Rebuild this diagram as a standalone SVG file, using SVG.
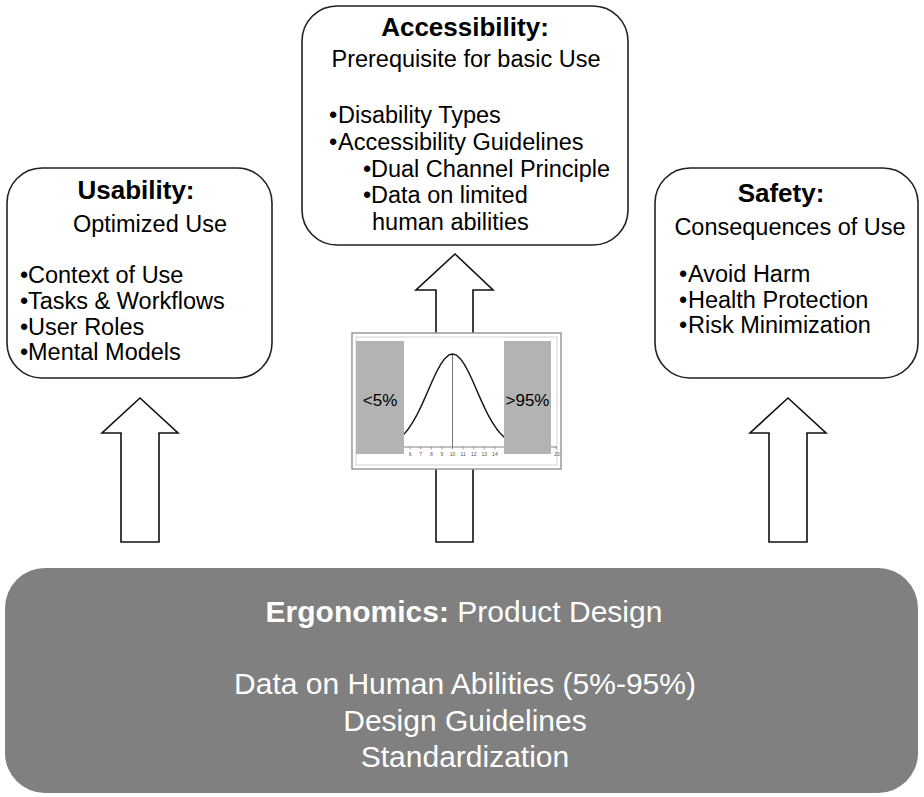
<svg xmlns="http://www.w3.org/2000/svg" width="924" height="797" viewBox="0 0 924 797">
<style>
.box{fill:#fff;stroke:#222;stroke-width:1.6}
.arrow{fill:#fff;stroke:#111;stroke-width:1.6;stroke-linejoin:miter}
.t{font-family:"Liberation Sans",Arial,sans-serif;fill:#000}
.title{font-size:26px;font-weight:bold}
.sub{font-size:23.5px}
.li{font-size:23.5px}
.bt{font-family:"Liberation Sans",Arial,sans-serif;fill:#fff;font-size:30px}
.ax{font-family:"Liberation Sans",Arial,sans-serif;font-size:5px;fill:#555;text-anchor:middle}
</style>
<rect width="924" height="797" fill="#fff"/>

<g id="connectors">
  <polygon class="arrow" points="140,398 178,433 159,433 159,542 121,542 121,433 102,433"/>
  <polygon class="arrow" points="455,254 493,290 473,290 473,542 436,542 436,290 416,290"/>
  <polygon class="arrow" points="788,398 826,433 807,433 807,542 769,542 769,433 750,433"/>
</g>

<g id="usability">
  <rect class="box" x="7" y="168" width="265" height="210" rx="35" ry="35"/>
  <text class="t title" x="136" y="199" text-anchor="middle">Usability:</text>
  <text class="t sub" x="150" y="232" text-anchor="middle">Optimized Use</text>
  <text class="t li" x="20" y="283">•</text><text class="t li" x="28" y="283">Context of Use</text>
  <text class="t li" x="20" y="309">•</text><text class="t li" x="28" y="309">Tasks &amp; Workflows</text>
  <text class="t li" x="20" y="335">•</text><text class="t li" x="28" y="335">User Roles</text>
  <text class="t li" x="20" y="360">•</text><text class="t li" x="28" y="360">Mental Models</text>
</g>

<g id="accessibility">
  <rect class="box" x="302" y="6" width="326" height="239" rx="35" ry="35"/>
  <text class="t title" x="465" y="36" text-anchor="middle">Accessibility:</text>
  <text class="t sub" x="466" y="67" text-anchor="middle">Prerequisite for basic Use</text>
  <text class="t li" x="329" y="123">•</text><text class="t li" x="338" y="123">Disability Types</text>
  <text class="t li" x="329" y="150">•</text><text class="t li" x="338" y="150">Accessibility Guidelines</text>
  <text class="t li" x="363" y="177">•</text><text class="t li" x="371" y="177">Dual Channel Principle</text>
  <text class="t li" x="363" y="203">•</text><text class="t li" x="371" y="203">Data on limited</text>
  <text class="t li" x="372" y="230">human abilities</text>
</g>

<g id="safety">
  <rect class="box" x="655" y="168" width="263" height="210" rx="35" ry="35"/>
  <text class="t title" x="781" y="202" text-anchor="middle">Safety:</text>
  <text class="t sub" x="790" y="235" text-anchor="middle">Consequences of Use</text>
  <text class="t li" x="679" y="282">•</text><text class="t li" x="688" y="282">Avoid Harm</text>
  <text class="t li" x="679" y="308">•</text><text class="t li" x="688" y="308">Health Protection</text>
  <text class="t li" x="679" y="333">•</text><text class="t li" x="688" y="333">Risk Minimization</text>
</g>

<g id="distribution-chart">
  <rect x="352" y="333" width="209" height="136" fill="#fff" stroke="#999" stroke-width="1.5"/>
  <rect x="356" y="337" width="201" height="128" fill="#fff" stroke="#d4d4d4" stroke-width="1"/>
  <line x1="356" y1="447" x2="557" y2="447" stroke="#666" stroke-width="0.8"/>
  <g stroke="#666" stroke-width="0.6">
    <line x1="410.1" y1="447" x2="410.1" y2="449.5"/><line x1="420.7" y1="447" x2="420.7" y2="449.5"/>
    <line x1="431.3" y1="447" x2="431.3" y2="449.5"/><line x1="441.9" y1="447" x2="441.9" y2="449.5"/>
    <line x1="452.5" y1="447" x2="452.5" y2="449.5"/><line x1="463.1" y1="447" x2="463.1" y2="449.5"/>
    <line x1="473.7" y1="447" x2="473.7" y2="449.5"/><line x1="484.3" y1="447" x2="484.3" y2="449.5"/>
    <line x1="494.9" y1="447" x2="494.9" y2="449.5"/><line x1="556" y1="447" x2="556" y2="449.5"/>
  </g>
  <text class="ax" x="410.1" y="456">6</text><text class="ax" x="420.7" y="456">7</text>
  <text class="ax" x="431.3" y="456">8</text><text class="ax" x="441.9" y="456">9</text>
  <text class="ax" x="452.5" y="456">10</text><text class="ax" x="463.1" y="456">11</text>
  <text class="ax" x="473.7" y="456">12</text><text class="ax" x="484.3" y="456">13</text>
  <text class="ax" x="494.9" y="456">14</text><text class="ax" x="557" y="456">20</text>
  <line x1="452.5" y1="354" x2="452.5" y2="447" stroke="#555" stroke-width="0.8"/>
  <polyline fill="none" stroke="#111" stroke-width="1.4" stroke-linejoin="round" points="396.5,440.3 400.5,437.4 404.5,433.6 408.5,428.7 412.5,422.7 416.5,415.7 420.5,407.6 424.5,398.9 428.5,389.7 432.5,380.5 436.5,372 440.5,364.6 444.5,358.9 448.5,355.2 452.5,354 456.5,355.2 460.5,358.9 464.5,364.6 468.5,372 472.5,380.5 476.5,389.7 480.5,398.9 484.5,407.6 488.5,415.7 492.5,422.7 496.5,428.7 500.5,433.6 504.5,437.4 508.5,440.3"/>
  <rect x="356" y="341" width="48" height="113" fill="#b3b3b3"/>
  <rect x="504" y="341" width="47" height="113" fill="#b3b3b3"/>
  <text class="t" x="380" y="406" font-size="17" text-anchor="middle">&lt;5%</text>
  <text class="t" x="527.5" y="406" font-size="17" text-anchor="middle">&gt;95%</text>
</g>

<g id="ergonomics">
  <rect x="5" y="568" width="913" height="225" rx="40" ry="40" fill="#808080"/>
  <text class="bt" x="464" y="622" text-anchor="middle"><tspan font-weight="bold">Ergonomics:</tspan> Product Design</text>
  <text class="bt" x="465" y="694" text-anchor="middle">Data on Human Abilities (5%-95%)</text>
  <text class="bt" x="465" y="731" text-anchor="middle">Design Guidelines</text>
  <text class="bt" x="465" y="767" text-anchor="middle">Standardization</text>
</g>
</svg>
